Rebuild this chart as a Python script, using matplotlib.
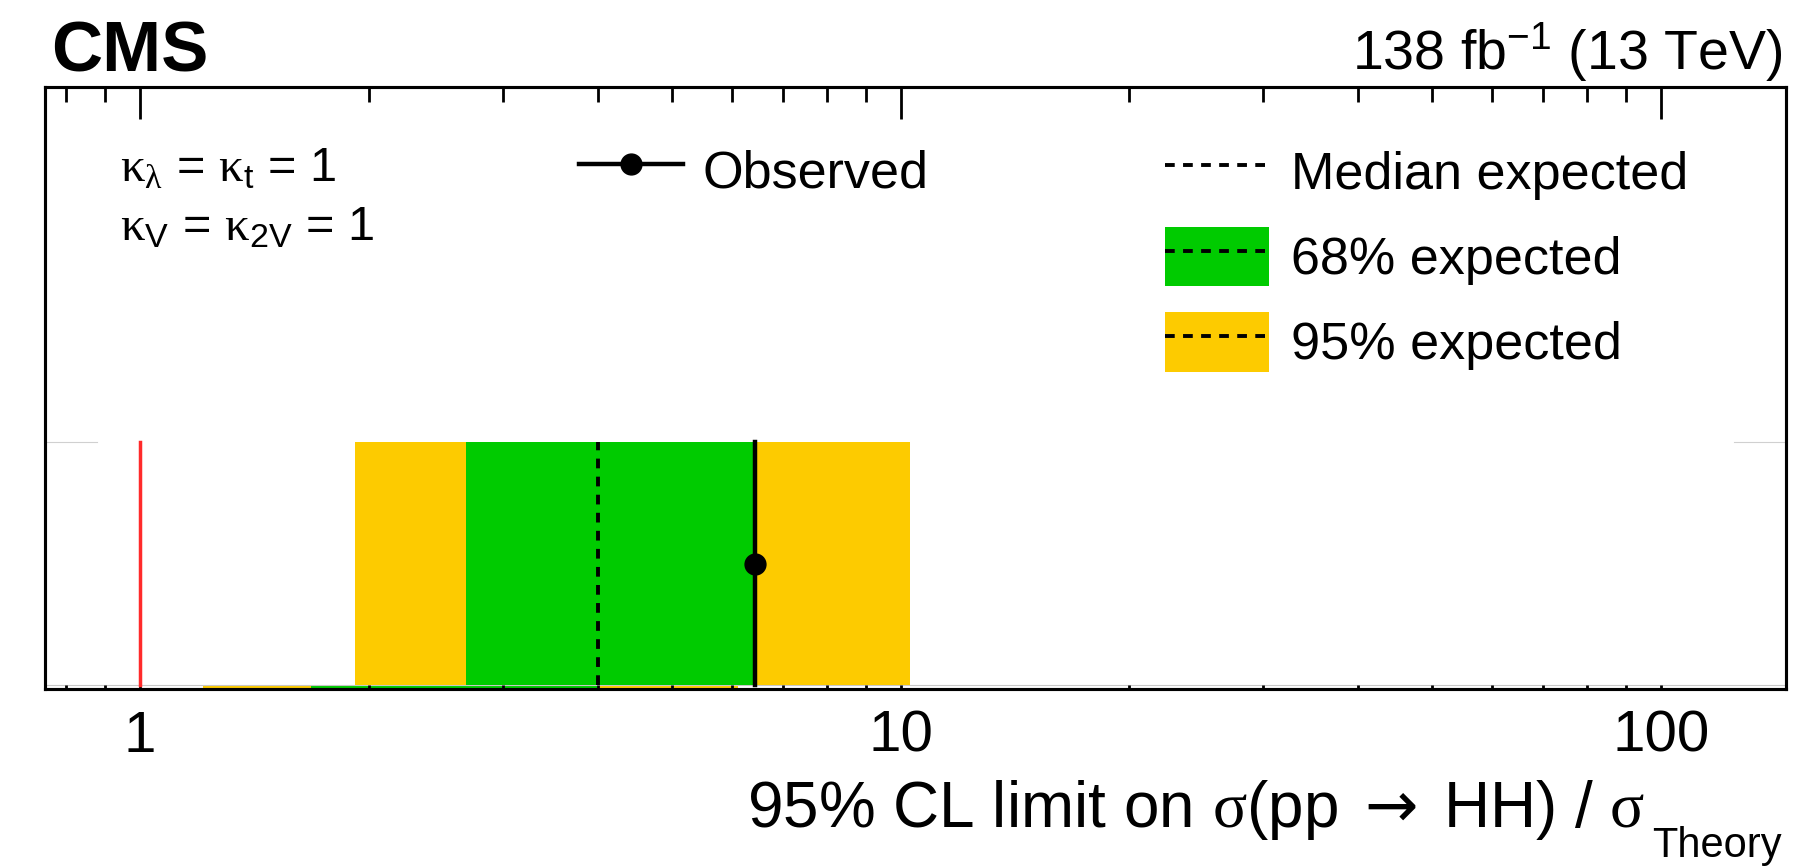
import matplotlib
matplotlib.use("Agg")
import matplotlib.pyplot as plt
import numpy as np
from matplotlib import ticker
from matplotlib.lines import Line2D
from matplotlib.patches import Patch

plt.rcParams["font.family"] = ["Liberation Sans", "DejaVu Sans"]
plt.rcParams["mathtext.fontset"] = "custom"
plt.rcParams["mathtext.rm"] = "Liberation Sans"
plt.rcParams["mathtext.it"] = "Liberation Sans:italic"
plt.rcParams["mathtext.bf"] = "Liberation Sans:bold"
plt.rcParams["mathtext.sf"] = "DejaVu Sans"      # for the arrow
plt.rcParams["mathtext.tt"] = "Liberation Serif"  # for the greek letters
plt.rcParams["lines.scale_dashes"] = False

# limits on sigma(pp -> HH) / sigma_theory
theory = 1.0
observed = 6.43
expected_median = 4.0
expected_68 = [2.68, 6.40]
expected_95 = [1.92, 10.3]
# thin band left along the bottom edge of the frame
strip_68 = [1.68, 4.0]
strip_95 = [1.21, 6.12]

x_range = [0.75, 146]
x_ticks = [1, 10, 100]
x_tick_labels = ["1", "10", "100"]

# colours
yellow = "#fdcb00"
green = "#00cb00"
red = "#ff2a2a"
dash = (0, (7.0, 6.0))

W, H = 1813, 867
fig = plt.figure(figsize=(W / 100, H / 100), dpi=100)
ax = fig.add_axes([45 / W, 1 - 689 / H, (1786 - 45) / W, (689 - 87) / H])
ax.set_xscale("log")
ax.set_xlim(*x_range)
ax.set_ylim(0, 1)

band_lo, band_hi = 0.0066, 0.41
band_mid = (band_lo + band_hi) / 2

# bottom strip
ax.fill_betweenx([0, band_lo], strip_95[0], strip_95[1], color=yellow, lw=0, zorder=1)
ax.fill_betweenx([0, band_lo], strip_68[0], strip_68[1], color=green, lw=0, zorder=1.1)
ax.axhline(band_lo, color="#c8c8c8", lw=0.8, zorder=1.2)
# little grey edges at the band top
ax.plot([x_range[0], 0.878], [band_hi, band_hi], color="#d0d0d0", lw=0.8, zorder=1.2)
ax.plot([124.8, x_range[1]], [band_hi, band_hi], color="#d0d0d0", lw=0.8, zorder=1.2)

# main bands
ax.fill_betweenx([band_lo, band_hi], expected_95[0], expected_95[1], color=yellow, lw=0, zorder=2)
ax.fill_betweenx([band_lo, band_hi], expected_68[0], expected_68[1], color=green, lw=0, zorder=2.1)
ax.plot([expected_median] * 2, [band_lo, band_hi], color="black", lw=2.8, ls=dash, zorder=3)
ax.plot([observed] * 2, [band_lo, band_hi], color="black", lw=3.2, zorder=3)
ax.plot([observed], [band_mid], "o", color="black", ms=15, zorder=4)
ax.plot([theory] * 2, [band_lo, band_hi], color=red, lw=2.5, zorder=3)

# ticks
ax.set_xticks(x_ticks, x_tick_labels)
ax.xaxis.set_minor_locator(ticker.LogLocator(base=10, subs=np.arange(2, 10)))
ax.xaxis.set_minor_formatter(ticker.NullFormatter())
ax.tick_params(axis="x", which="both", direction="in", length=3, width=2,
               labelsize=42, pad=15, zorder=5)
ax.tick_params(axis="y", left=False, labelleft=False)
for spine in ax.spines.values():
    spine.set_linewidth(2.2)
    spine.set_zorder(6)

axt = ax.twiny()
axt.set_xscale("log")
axt.set_xlim(*x_range)
axt.set_xticks(x_ticks)
axt.set_xticklabels([])
axt.xaxis.set_minor_locator(ticker.LogLocator(base=10, subs=np.arange(2, 10)))
axt.xaxis.set_minor_formatter(ticker.NullFormatter())
axt.tick_params(axis="x", which="major", direction="in", length=23, width=2)
axt.tick_params(axis="x", which="minor", direction="in", length=11, width=2)
for spine in axt.spines.values():
    spine.set_linewidth(2.2)

# legends
leg_fs = 37.5
h_obs = Line2D([], [], color="black", lw=3.2, marker="o", ms=15)
leg1 = ax.legend([h_obs], ["Observed"], loc="upper left",
                 bbox_to_anchor=(579 / W, 1 - 141 / H), bbox_transform=fig.transFigure,
                 frameon=False, fontsize=leg_fs, handlelength=2.0, handleheight=1.37,
                 handletextpad=0.38, borderpad=0, borderaxespad=0, numpoints=1)
ax.add_artist(leg1)

h_med = Line2D([], [], color="black", lw=2.8, ls=dash)
h_68 = (Patch(facecolor=green, edgecolor="none"), Line2D([], [], color="black", lw=2.8, ls=dash))
h_95 = (Patch(facecolor=yellow, edgecolor="none"), Line2D([], [], color="black", lw=2.8, ls=dash))
ax.legend([h_med, h_68, h_95], ["Median expected", "68% expected", "95% expected"],
          loc="upper left", bbox_to_anchor=(1165 / W, 1 - 142 / H),
          bbox_transform=fig.transFigure, frameon=False, fontsize=leg_fs,
          handlelength=2.0, handleheight=1.37, handletextpad=0.42,
          labelspacing=0.5, borderpad=0, borderaxespad=0)

# texts
fig.text(51 / W, 1 - 72 / H, "CMS", fontsize=51, fontweight="bold", va="baseline")
fig.text(1782 / W, 1 - 70 / H, r"138 fb$^{-1}$ (13 TeV)", fontsize=40, ha="right", va="baseline")
fig.text(120 / W, 1 - 181 / H,
         r"$\mathtt{\kappa}_{\mathtt{\lambda}}$ = $\mathtt{\kappa}_{\mathrm{t}}$ = 1",
         fontsize=35, va="baseline")
fig.text(120 / W, 1 - 240 / H,
         r"$\mathtt{\kappa}_{\mathrm{V}}$ = $\mathtt{\kappa}_{\mathrm{2V}}$ = 1",
         fontsize=35, va="baseline")
fig.text(1645 / W, 1 - 827 / H,
         r"95% CL limit on $\mathtt{\sigma}$(pp$\;\mathsf{\rightarrow}\;$HH) / $\mathtt{\sigma}$",
         fontsize=46, ha="right", va="baseline")
fig.text(1782 / W, 1 - 857 / H, "Theory", fontsize=30, ha="right", va="baseline")

fig.savefig("out.png", dpi=100)
